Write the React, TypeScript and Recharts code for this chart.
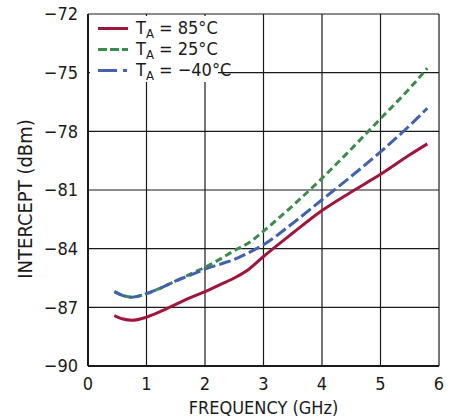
import React from 'react';
import { LineChart, Line, XAxis, YAxis, CartesianGrid, Legend, Label } from 'recharts';

// frequency points (GHz)
const FREQ = [0.45, 0.6, 0.75, 1, 1.25, 1.5, 1.75, 2, 2.25, 2.5, 2.75, 3, 3.5, 4, 4.5, 5, 5.5, 5.8];

// intercept (dBm) for each temperature
const T85 = [-87.42, -87.6, -87.66, -87.5, -87.2, -86.85, -86.5, -86.2, -85.85, -85.5, -85.05, -84.4, -83.2, -82.05, -81.1, -80.2, -79.2, -78.64];
const T25 = [-86.2, -86.4, -86.48, -86.3, -86.0, -85.65, -85.3, -84.95, -84.55, -84.1, -83.7, -83.1, -81.8, -80.4, -78.9, -77.35, -75.8, -74.77];
const TM40 = [-86.2, -86.4, -86.48, -86.3, -86.0, -85.65, -85.35, -85.05, -84.8, -84.55, -84.2, -83.8, -82.7, -81.5, -80.3, -79.05, -77.7, -76.82];

const X_TICKS = [0, 1, 2, 3, 4, 5, 6];
const Y_TICKS = [-90, -87, -84, -81, -78, -75, -72];

const SERIES = [
  { key: 't85', temp: '85°C', color: '#a1153c', dash: undefined, icon: undefined },
  { key: 't25', temp: '25°C', color: '#3b8c4b', dash: '7 4', icon: '9 3' },
  { key: 'tm40', temp: '−40°C', color: '#4262b0', dash: '12 4', icon: '19 6 4 6' },
];

const data = FREQ.map((f, i) => ({ f, t85: T85[i], t25: T25[i], tm40: TM40[i] }));

const FONT = "'Liberation Sans Narrow', 'DejaVu Sans Condensed', 'Arial Narrow', sans-serif";
const INK = '#1a1a1a';

const fmt = (v: number) => (v < 0 ? `−${Math.abs(v)}` : `${v}`);

const LegendBox = () => (
  <div style={{ background: '#fff', width: 128, height: 66, paddingTop: 2, boxSizing: 'border-box', fontFamily: FONT }}>
    {SERIES.map((s) => (
      <div key={s.key} style={{ height: 21, display: 'flex', alignItems: 'center' }}>
        <svg width={46} height={21} style={{ flex: 'none' }}>
          <line x1={8} x2={38} y1={10.5} y2={10.5} stroke={s.color} strokeWidth={3} strokeDasharray={s.icon} />
        </svg>
        <span style={{ fontSize: 18, color: INK, lineHeight: '18px', whiteSpace: 'nowrap' }}>
          T<span style={{ fontSize: 13, position: 'relative', top: 4 }}>A</span> = {s.temp}
        </span>
      </div>
    ))}
  </div>
);

const YTitle = () => (
  <text x={32} y={199} transform="rotate(-90, 32, 199)" textAnchor="middle" fontSize={20} fontFamily={FONT} fill={INK}>
    INTERCEPT (dBm)
  </text>
);

export default function App() {
  return (
    <div style={{ width: 454, height: 419, background: '#fff', position: 'relative' }}>
      <style>{'body{margin:0}'}</style>
      <LineChart width={454} height={419} data={data} margin={{ top: 14, right: 15, left: 0, bottom: 0 }}>
        <CartesianGrid stroke={INK} strokeWidth={1.2} />
        <XAxis
          dataKey="f"
          type="number"
          domain={[0, 6]}
          ticks={X_TICKS}
          height={53}
          tickSize={0}
          tickMargin={11}
          axisLine={{ stroke: INK, strokeWidth: 2 }}
          tickLine={false}
          tick={{ fill: INK, fontSize: 18, fontFamily: FONT }}
        >
          <Label value="FREQUENCY (GHz)" position="insideBottom" offset={5} fill={INK} fontSize={18} fontFamily={FONT} />
        </XAxis>
        <YAxis
          type="number"
          domain={[-90, -72]}
          ticks={Y_TICKS}
          width={88}
          tickSize={0}
          tickMargin={10}
          tickFormatter={fmt}
          axisLine={{ stroke: INK, strokeWidth: 2 }}
          tickLine={false}
          tick={{ fill: INK, fontSize: 18, fontFamily: FONT }}
        >
          <Label content={<YTitle />} />
        </YAxis>
        <Legend
          layout="vertical"
          align="center"
          verticalAlign="middle"
          wrapperStyle={{ left: 90, top: 16, width: 128, height: 66 }}
          content={<LegendBox />}
        />
        {SERIES.map((s) => (
          <Line
            key={s.key}
            dataKey={s.key}
            type="monotone"
            stroke={s.color}
            strokeWidth={3}
            strokeDasharray={s.dash}
            dot={false}
            isAnimationActive={false}
          />
        ))}
      </LineChart>
    </div>
  );
}
